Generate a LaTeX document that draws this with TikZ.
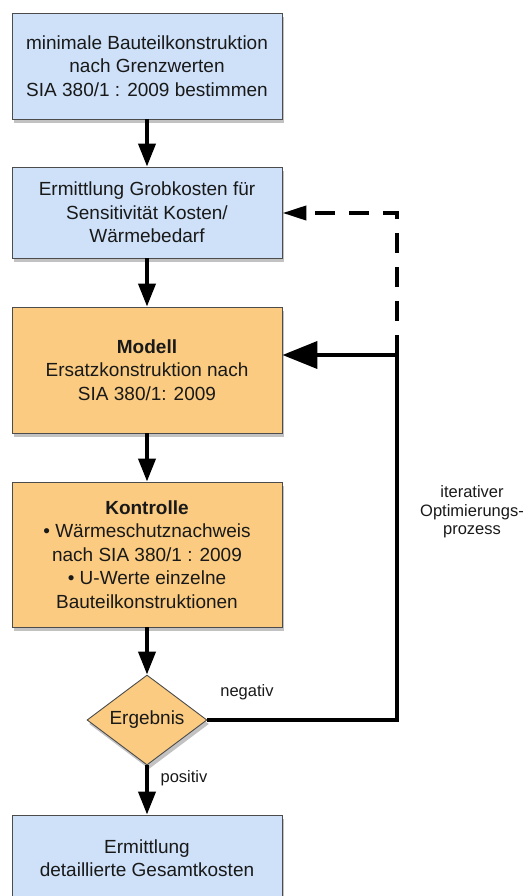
\documentclass[tikz,border=0pt]{standalone}
\usepackage{fontspec}
\setmainfont{Liberation Sans}
\usetikzlibrary{arrows.meta,shapes.geometric,shadows}
\definecolor{boxblue}{RGB}{206,225,249}
\definecolor{boxorange}{RGB}{250,203,128}
\begin{document}
\begin{tikzpicture}[x=1pt, y=-1pt, >={Triangle[length=23pt,width=17pt]},
  font=\fontsize{19}{23.5}\selectfont, text=black!90,
  stepbox/.style={draw=black!70, line width=0.9pt, minimum width=270pt,
    inner sep=0pt, align=center,
    drop shadow={shadow xshift=2pt, shadow yshift=-4pt, opacity=0.4, fill=black!60}},
  bluebox/.style={stepbox, fill=boxblue},
  orangebox/.style={stepbox, fill=boxorange},
  flow/.style={line width=4pt},
  small/.style={font=\fontsize{16.5}{18.5}\selectfont, align=center}]
  \useasboundingbox (0,0) rectangle (524,896);
  \node[bluebox, minimum height=106pt] (grenz) at (147,66)
    {minimale Bauteilkonstruktion\\nach Grenzwerten\\SIA 380/1 : 2009 bestimmen};
  \node[bluebox, minimum height=91pt] (grob) at (147,212.5)
    {Ermittlung Grobkosten für\\Sensitivität Kosten/\\Wärmebedarf};
  \node[orangebox, minimum height=126pt] (modell) at (147,370)
    {\textbf{Modell}\\Ersatzkonstruktion nach\\SIA 380/1: 2009};
  \node[orangebox, minimum height=145pt] (kontr) at (147,554.5)
    {\textbf{Kontrolle}\\• Wärmeschutznachweis\\nach SIA 380/1 : 2009\\• U-Werte einzelne\\Bauteilkonstruktionen};
  \node[diamond, aspect=1.4, draw=black!70, line width=0.9pt, fill=boxorange,
    minimum width=120pt, minimum height=90pt, inner sep=0pt,
    drop shadow={shadow xshift=2pt, shadow yshift=-4pt, opacity=0.4, fill=black!60}] (erg) at (147,720) {Ergebnis};
  \node[bluebox, minimum height=86pt] (gesamt) at (147,858)
    {Ermittlung\\detaillierte Gesamtkosten};
  \node[small] (neg) at (247,692) {negativ};
  \node[small] (pos) at (184,778) {positiv};
  \node[small] (iter) at (472,512) {iterativer\\Optimierungs-\\prozess};
  \coordinate (unten) at (397,720);
  \coordinate (knick) at (397,355);
  \coordinate (ecke) at (397,213);
  \draw[flow,->] (grenz) -- (grob);
  \draw[flow,->] (grob) -- (modell);
  \draw[flow,->] (modell) -- (kontr);
  \draw[flow,->] (kontr) -- (erg);
  \draw[flow,->] (erg) -- (gesamt);
  \draw[flow] (erg.east) -- (unten) -- (knick);
  \draw[flow,-{Triangle[length=35pt,width=27pt]}] (knick) -- (modell.east |- knick);
  \draw[flow, dash pattern=on 20pt off 14pt, -{Triangle[length=24pt,width=14pt]}]
    (knick) -- (ecke) -- (grob.east |- ecke);
\end{tikzpicture}
\end{document}
